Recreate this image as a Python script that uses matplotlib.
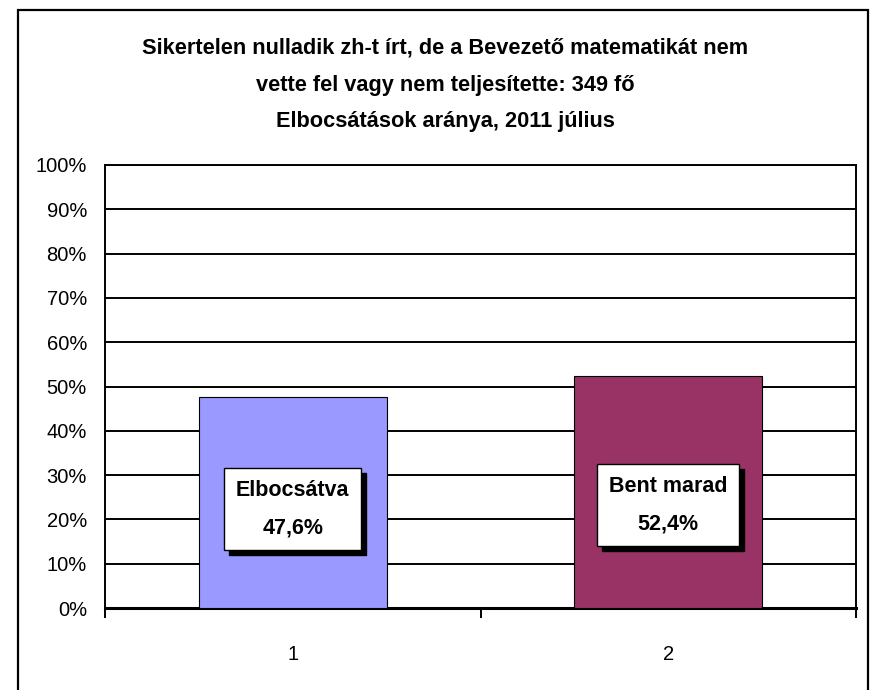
import matplotlib
matplotlib.use("Agg")
import matplotlib.pyplot as plt
from matplotlib.patches import Rectangle
from matplotlib.transforms import IdentityTransform
from matplotlib.ticker import FuncFormatter

# data
categories = ["1", "2"]
shares = [47.6, 52.4]
labels = ["Elbocsátva", "Bent marad"]
colors = ["#9999FF", "#993366"]
label_y = [22.3, 23.2]
title = ("Sikertelen nulladik zh-t írt, de a Bevezető matematikát nem\n"
         "vette fel vagy nem teljesítette: 349 fő\n"
         "Elbocsátások aránya, 2011 július")

plt.rcParams["font.family"] = ["Liberation Sans", "DejaVu Sans"]

fig = plt.figure(figsize=(8.73, 6.90), dpi=100)
ax = fig.add_axes([105 / 873, 82 / 690, (856 - 105) / 873, (608 - 165) / 690])

x = list(range(1, len(categories) + 1))
ax.bar(x, shares, width=0.5, color=colors, edgecolor="black", linewidth=0.8, zorder=3)

ax.set_xlim(0.5, len(categories) + 0.5)
ax.set_ylim(0, 100)
ax.set_yticks(range(0, 101, 10))
ax.yaxis.set_major_formatter(FuncFormatter(lambda v, p: "%d%%" % v))
ax.yaxis.grid(True, color="black", linewidth=1.4, zorder=1)
ax.tick_params(axis="y", length=0, pad=13, labelsize=14.5)

# ticks between categories, labels at centres
ax.set_xticks([i + 0.5 for i in range(len(categories) + 1)])
ax.set_xticklabels([])
ax.set_xticks(x, minor=True)
ax.set_xticklabels(categories, minor=True)
ax.tick_params(axis="x", which="major", length=7, width=1.4, color="black")
ax.tick_params(axis="x", which="minor", length=0, pad=27, labelsize=14.5)

for s in ax.spines.values():
    s.set_linewidth(1.4)
ax.spines["bottom"].set_linewidth(2.2)

# label boxes
boxes = []
for xi, val, lab, ly in zip(x, shares, labels, label_y):
    txt = "%s\n%s%%" % (lab, ("%.1f" % val).replace(".", ","))
    t = ax.text(xi, ly, txt, ha="center", va="center", fontsize=15.5,
                fontweight="bold", linespacing=2.05, zorder=5,
                bbox=dict(boxstyle="square,pad=0.55", fc="white", ec="black", lw=1))
    boxes.append(t)

fig.text(445 / 873, 1 - 85 / 690, title, ha="center", va="center",
         fontsize=15.7, fontweight="bold", linespacing=1.98)

# drop shadows behind the label boxes
fig.canvas.draw()
r = fig.canvas.get_renderer()
for t in boxes:
    bb = t.get_bbox_patch().get_window_extent(r)
    ax.add_patch(Rectangle((bb.x0 + 5, bb.y0 - 5), bb.width, bb.height,
                           transform=IdentityTransform(), fc="black", ec="black",
                           zorder=4, clip_on=False))

# chart frame
fig.patches.append(Rectangle((18 / 873, -0.02), 850 / 873, 1.02 - 10 / 690,
                             transform=fig.transFigure, fill=False,
                             edgecolor="black", linewidth=1.6))

fig.savefig("out.png", dpi=100)
